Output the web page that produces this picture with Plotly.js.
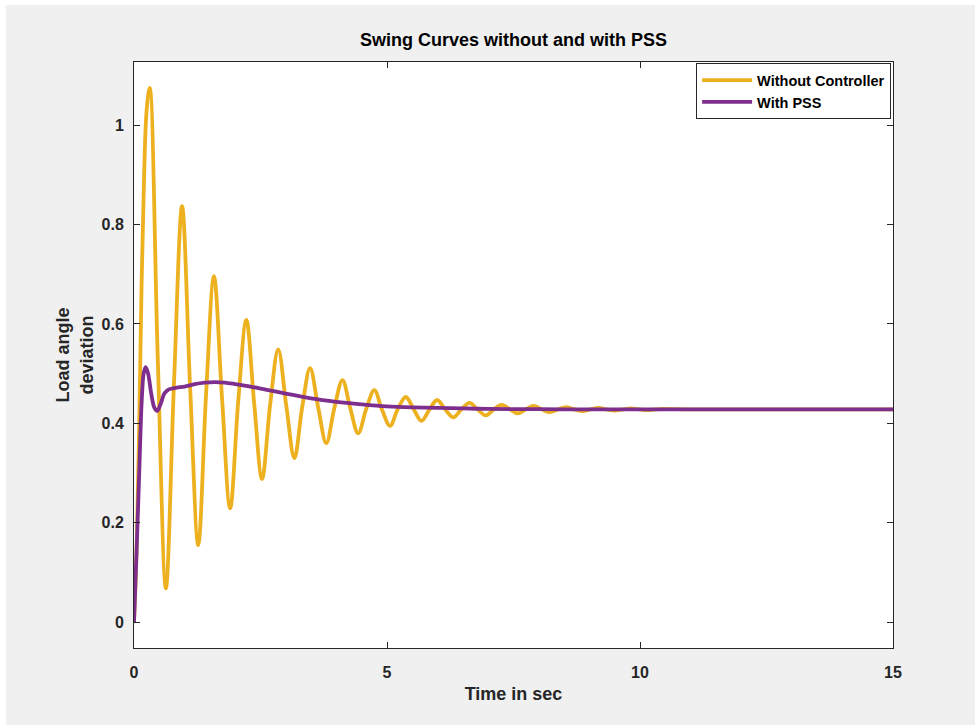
<!DOCTYPE html>
<html>
<head>
<meta charset="utf-8">
<script src="https://cdn.plot.ly/plotly-3.0.1.min.js"></script>
<style>
  html, body { margin: 0; padding: 0; background: #ffffff; width: 975px; height: 725px; overflow: hidden; }
  #chart { position: absolute; left: 6px; top: 5px; width: 969px; height: 720px; }
</style>
</head>
<body>
<div id="chart"></div>
<script>
// Time (s) and load angle deviation, without controller
const tWithout = [0, 0.05, 0.10, 0.15, 0.20, 0.25, 0.31, 0.47, 0.63, 0.79, 0.95, 1.11, 1.27, 1.425, 1.58, 1.74, 1.90, 2.06, 2.22, 2.375, 2.53, 2.69, 2.85, 3.01, 3.17, 3.325, 3.48, 3.64, 3.80, 3.96, 4.12, 4.275, 4.43, 4.59, 4.75, 4.90, 5.06, 5.21, 5.37, 5.53, 5.68, 5.84, 5.99, 6.15, 6.31, 6.47, 6.63, 6.79, 6.95, 7.11, 7.27, 7.43, 7.58, 7.74, 7.90, 8.06, 8.22, 8.38, 8.54, 8.70, 8.86, 9.02, 9.18, 9.34, 9.50, 9.66, 9.82, 9.98, 10.14, 10.30, 10.46, 11, 12, 13, 14, 15];
const yWithout = [0, 0.14, 0.38, 0.68, 0.90, 1.03, 1.075, 0.53, 0.068, 0.48, 0.837, 0.47, 0.155, 0.46, 0.696, 0.45, 0.229, 0.445, 0.608, 0.44, 0.288, 0.437, 0.549, 0.435, 0.330, 0.433, 0.511, 0.432, 0.360, 0.431, 0.487, 0.430, 0.380, 0.429, 0.467, 0.428, 0.395, 0.428, 0.453, 0.428, 0.405, 0.428, 0.447, 0.428, 0.412, 0.428, 0.441, 0.428, 0.416, 0.428, 0.437, 0.428, 0.420, 0.428, 0.435, 0.428, 0.4225, 0.428, 0.4325, 0.428, 0.4245, 0.428, 0.431, 0.428, 0.4255, 0.428, 0.430, 0.428, 0.4265, 0.428, 0.429, 0.428, 0.428, 0.428, 0.428, 0.428];

// Time (s) and load angle deviation, with PSS
const tPSS = [0, 0.05, 0.10, 0.15, 0.19, 0.23, 0.28, 0.34, 0.40, 0.46, 0.53, 0.60, 0.68, 0.75, 0.85, 1.0, 1.2, 1.4, 1.6, 1.8, 2.0, 2.3, 2.6, 3.0, 3.5, 4.0, 4.5, 5.0, 5.5, 6.0, 6.5, 7.0, 8.0, 9, 10, 11, 12, 13, 14, 15];
const yPSS = [0, 0.14, 0.29, 0.44, 0.50, 0.513, 0.50, 0.46, 0.432, 0.425, 0.44, 0.46, 0.468, 0.47, 0.472, 0.474, 0.479, 0.482, 0.483, 0.482, 0.479, 0.474, 0.468, 0.46, 0.45, 0.443, 0.438, 0.434, 0.432, 0.431, 0.430, 0.429, 0.4285, 0.428, 0.428, 0.428, 0.428, 0.428, 0.428, 0.428];

const seriesNames = ["Without Controller", "With PSS"];
const xTicks = [0, 5, 10, 15];
const yTicks = [0, 0.2, 0.4, 0.6, 0.8, 1];
const yTickText = ["0", "0.2", "0.4", "0.6", "0.8", "1"];

const font = "Liberation Sans, Arial, sans-serif";
const axisColor = "#262626";

const traces = [
  {
    x: tWithout, y: yWithout, name: "<b>" + seriesNames[0] + "</b>", type: "scatter", mode: "lines",
    line: { color: "#EDB120", width: 3.8, shape: "spline", smoothing: 1.0 }
  },
  {
    x: tPSS, y: yPSS, name: "<b>" + seriesNames[1] + "</b>", type: "scatter", mode: "lines",
    line: { color: "#7E2F8E", width: 3.8, shape: "spline", smoothing: 0.8 }
  }
];

const layout = {
  width: 969, height: 720,
  paper_bgcolor: "#f0f0f0",
  plot_bgcolor: "#ffffff",
  margin: { l: 128, r: 82, t: 57, b: 77, pad: 0 },
  font: { family: font, color: axisColor, size: 16 },
  title: {
    text: "<b>Swing Curves without and with PSS</b>",
    font: { family: font, size: 18, color: "#000000" },
    x: 0.5, xref: "paper", xanchor: "center",
    y: 1 - 35 / 720, yref: "container", yanchor: "middle"
  },
  xaxis: {
    range: [0, 15],
    tickvals: xTicks,
    ticktext: xTicks.map(v => "<b>" + v + "</b>"),
    ticks: "inside", ticklen: 6, tickwidth: 1, tickcolor: axisColor,
    showline: true, linecolor: axisColor, linewidth: 1, mirror: "ticks",
    showgrid: false, zeroline: false,
    tickfont: { family: font, size: 16, color: axisColor },
    ticklabelstandoff: 10,
    title: { text: "<b>Time in sec</b>", font: { family: font, size: 18, color: axisColor }, standoff: 7 },
    automargin: false
  },
  yaxis: {
    range: [-0.052, 1.127],
    tickvals: yTicks,
    ticktext: yTickText.map(v => "<b>" + v + "</b>"),
    ticks: "inside", ticklen: 6, tickwidth: 1, tickcolor: axisColor,
    showline: true, linecolor: axisColor, linewidth: 1, mirror: "ticks",
    showgrid: false, zeroline: false,
    tickfont: { family: font, size: 16, color: axisColor },
    ticklabelstandoff: 6,
    title: { text: "<b>Load angle<br>deviation</b>", font: { family: font, size: 18, color: axisColor }, standoff: 3 },
    automargin: false
  },
  legend: {
    x: 0.9975, y: 0.998, xanchor: "right", yanchor: "top",
    bgcolor: "#ffffff", bordercolor: axisColor, borderwidth: 1,
    font: { family: font, size: 14.5, color: "#000000" },
    tracegroupgap: 0, itemwidth: 50
  },
  showlegend: true
};

Plotly.newPlot("chart", traces, layout, { displayModeBar: false, staticPlot: true });
</script>
</body>
</html>
